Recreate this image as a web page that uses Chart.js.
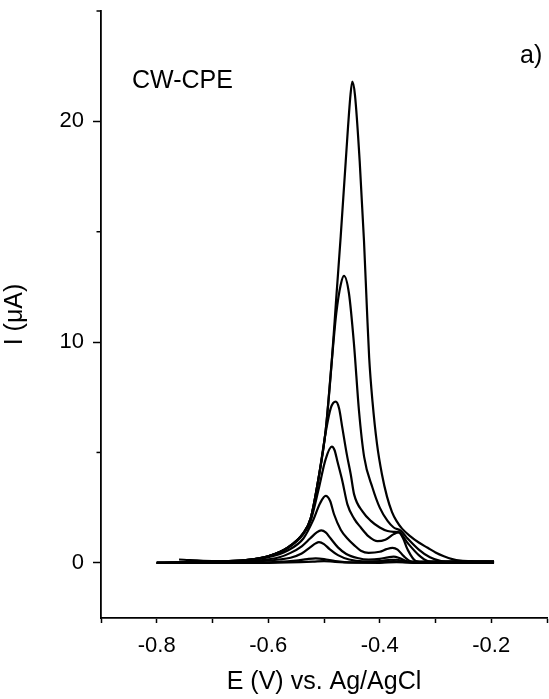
<!DOCTYPE html>
<html>
<head>
<meta charset="utf-8">
<script src="https://cdn.jsdelivr.net/npm/chart.js@4"></script>
<style>
  html, body { margin: 0; padding: 0; background: #fff; }
</style>
</head>
<body>
<canvas id="cv" width="549" height="699"></canvas>
<script>
// potential (V) / current (uA), one pair per scan
const e1 = [-0.80, -0.70, -0.64, -0.60, -0.566, -0.537, -0.524, -0.51, -0.497, -0.486, -0.478, -0.470, -0.461, -0.4525, -0.4492, -0.4445, -0.436, -0.4283, -0.423, -0.419, -0.413, -0.405, -0.396, -0.387, -0.378, -0.37, -0.36, -0.345, -0.33, -0.314, -0.30, -0.285, -0.27, -0.255, -0.23, -0.195];
const i1 = [0.00, 0.05, 0.12, 0.30, 0.68, 1.35, 2.0, 3.8, 6.0, 9.15, 12.0, 14.8, 18.2, 21.2, 21.8, 21.2, 18.2, 14.6, 11.5, 9.3, 7.3, 5.4, 4.0, 3.0, 2.3, 1.9, 1.55, 1.2, 0.92, 0.68, 0.47, 0.30, 0.17, 0.10, 0.07, 0.06];

const e2 = [-0.80, -0.70, -0.64, -0.60, -0.566, -0.537, -0.524, -0.51, -0.497, -0.486, -0.478, -0.470, -0.4642, -0.4552, -0.4462, -0.4373, -0.428, -0.413, -0.40, -0.386, -0.375, -0.362, -0.35, -0.33, -0.31, -0.29, -0.27, -0.24, -0.195];
const i2 = [0.00, 0.05, 0.12, 0.30, 0.68, 1.35, 2.0, 3.8, 6.0, 9.15, 11.3, 12.6, 13.0, 12.2, 9.9, 6.9, 4.8, 3.4, 2.5, 1.9, 1.6, 1.45, 1.1, 0.6, 0.25, 0.08, 0.05, 0.05, 0.05];

const e3 = [-0.80, -0.70, -0.64, -0.60, -0.566, -0.537, -0.524, -0.51, -0.497, -0.488, -0.479, -0.473, -0.467, -0.459, -0.452, -0.446, -0.43, -0.416, -0.40, -0.386, -0.375, -0.365, -0.35, -0.33, -0.314, -0.30, -0.26, -0.195];
const i3 = [0.00, 0.05, 0.12, 0.30, 0.68, 1.35, 2.0, 3.8, 5.9, 7.0, 7.3, 7.0, 6.1, 4.9, 4.0, 3.1, 2.3, 1.9, 1.6, 1.44, 1.4, 1.38, 0.9, 0.35, 0.08, 0.05, 0.05, 0.05];

const e4 = [-0.80, -0.70, -0.64, -0.60, -0.566, -0.537, -0.524, -0.51, -0.497, -0.486, -0.481, -0.476, -0.467, -0.458, -0.446, -0.434, -0.42, -0.404, -0.39, -0.375, -0.366, -0.358, -0.35, -0.335, -0.32, -0.26, -0.195];
const i4 = [0.00, 0.05, 0.12, 0.30, 0.65, 1.3, 1.9, 3.3, 4.7, 5.26, 5.1, 4.6, 3.7, 2.65, 2.0, 1.6, 1.2, 0.98, 1.05, 1.3, 1.38, 1.1, 0.6, 0.08, 0.05, 0.05, 0.05];

const e5 = [-0.80, -0.70, -0.64, -0.60, -0.566, -0.537, -0.52, -0.507, -0.497, -0.489, -0.482, -0.47, -0.458, -0.446, -0.434, -0.42, -0.40, -0.388, -0.377, -0.368, -0.357, -0.344, -0.32, -0.26, -0.195];
const i5 = [0.00, 0.04, 0.10, 0.25, 0.55, 1.1, 1.9, 2.7, 3.03, 2.8, 2.2, 1.5, 1.1, 0.8, 0.55, 0.45, 0.5, 0.62, 0.68, 0.6, 0.3, 0.07, 0.04, 0.04, 0.04];

const e6 = [-0.80, -0.70, -0.62, -0.58, -0.56, -0.54, -0.525, -0.513, -0.505, -0.497, -0.488, -0.475, -0.46, -0.44, -0.42, -0.40, -0.385, -0.375, -0.365, -0.352, -0.34, -0.30, -0.195];
const i6 = [0.00, 0.03, 0.10, 0.25, 0.45, 0.75, 1.1, 1.38, 1.47, 1.38, 1.1, 0.7, 0.4, 0.22, 0.15, 0.18, 0.25, 0.28, 0.22, 0.08, 0.03, 0.03, 0.03];

const e7 = [-0.76, -0.70, -0.62, -0.58, -0.56, -0.54, -0.525, -0.515, -0.509, -0.50, -0.49, -0.475, -0.455, -0.43, -0.40, -0.38, -0.37, -0.355, -0.34, -0.195];
const i7 = [0.15, 0.08, 0.07, 0.15, 0.23, 0.42, 0.7, 0.88, 0.94, 0.85, 0.62, 0.35, 0.15, 0.07, 0.08, 0.14, 0.14, 0.06, 0.02, 0.02];

const e8 = [-0.80, -0.65, -0.58, -0.55, -0.53, -0.515, -0.50, -0.48, -0.45, -0.40, -0.375, -0.355, -0.30, -0.195];
const i8 = [0.00, 0.01, 0.04, 0.10, 0.17, 0.20, 0.17, 0.08, 0.02, 0.03, 0.08, 0.03, 0.00, 0.00];

const e9 = [-0.80, -0.60, -0.52, -0.50, -0.48, -0.40, -0.37, -0.34, -0.195];
const i9 = [0.00, 0.00, 0.05, 0.08, 0.04, 0.00, 0.03, 0.00, 0.00];

const xTicks = [-0.9, -0.8, -0.7, -0.6, -0.5, -0.4, -0.3, -0.2, -0.1];
const xLabels = ['', '-0.8', '', '-0.6', '', '-0.4', '', '-0.2', ''];
const yTicks = [0, 5, 10, 15, 20, 25];
const yLabels = ['0', '', '10', '', '20', ''];

const scans = [[e1, i1], [e2, i2], [e3, i3], [e4, i4], [e5, i5], [e6, i6], [e7, i7], [e8, i8], [e9, i9]];

const FONT = "'Liberation Sans', Arial, sans-serif";

// short minor ticks on the y axis + the two labels inside the plot
const extras = {
  id: 'extras',
  afterDraw(chart) {
    const ctx = chart.ctx;
    const y = chart.scales.y;
    ctx.save();
    ctx.strokeStyle = '#000';
    ctx.lineWidth = 1.5;
    yTicks.forEach((v, k) => {
      if (yLabels[k]) return;
      const py = y.getPixelForValue(v);
      ctx.beginPath();
      ctx.moveTo(y.right - 4.5, py);
      ctx.lineTo(y.right, py);
      ctx.stroke();
    });
    ctx.fillStyle = '#000';
    ctx.font = '25px ' + FONT;
    ctx.textBaseline = 'middle';
    ctx.textAlign = 'left';
    ctx.fillText('CW-CPE', 132, 81);
    ctx.fillText('a)', 520, 56);
    ctx.restore();
  }
};

new Chart(document.getElementById('cv'), {
  type: 'scatter',
  data: {
    datasets: scans.map(([es, is]) => ({
      data: es.map((e, k) => ({ x: e, y: is[k] })),
      showLine: true,
      borderColor: '#000',
      borderWidth: 2.2,
      pointRadius: 0,
      cubicInterpolationMode: 'monotone'
    }))
  },
  options: {
    responsive: false,
    animation: false,
    layout: { padding: { top: 11, right: 2, left: 0, bottom: 0 } },
    plugins: { legend: { display: false }, tooltip: { enabled: false } },
    scales: {
      x: {
        type: 'linear',
        min: -0.9,
        max: -0.1,
        afterBuildTicks: s => { s.ticks = xTicks.map(v => ({ value: v })); },
        afterFit: s => { s.height = 81; s.paddingLeft = 0; s.paddingRight = 0; },
        border: { color: '#000', width: 1.8 },
        grid: { drawOnChartArea: false, tickLength: 5, tickColor: '#000', tickWidth: 1.5 },
        ticks: {
          autoSkip: false,
          maxRotation: 0,
          padding: 10,
          color: '#000',
          font: { family: FONT, size: 22 },
          callback: (v, k) => xLabels[k]
        },
        title: {
          display: true,
          text: 'E (V) vs. Ag/AgCl',
          color: '#000',
          font: { family: FONT, size: 25 },
          padding: { top: 0, bottom: 2 }
        }
      },
      y: {
        type: 'linear',
        min: -2.5,
        max: 25,
        afterBuildTicks: s => { s.ticks = yTicks.map(v => ({ value: v })); },
        afterFit: s => { s.width = 101; s.paddingTop = 0; s.paddingBottom = 0; },
        border: { color: '#000', width: 1.8 },
        grid: {
          drawOnChartArea: false,
          tickLength: 8,
          tickWidth: 1.5,
          tickColor: c => (yLabels[c.index] ? '#000' : 'rgba(0,0,0,0)')
        },
        ticks: {
          padding: 9,
          color: '#000',
          font: { family: FONT, size: 22 },
          callback: (v, k) => yLabels[k]
        },
        title: {
          display: true,
          text: 'I (μA)',
          color: '#000',
          font: { family: FONT, size: 25 },
          padding: { top: 0, bottom: 0 }
        }
      }
    }
  },
  plugins: [extras]
});
</script>
</body>
</html>
